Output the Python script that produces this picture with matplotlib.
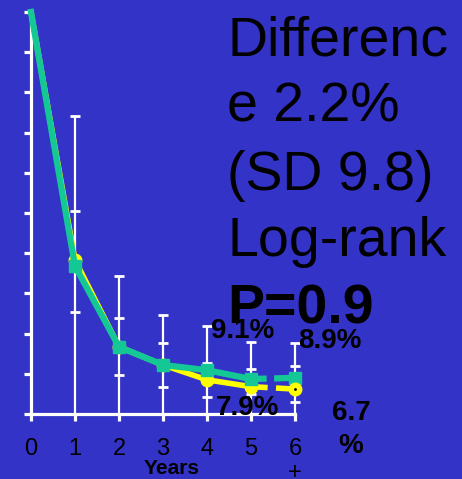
import matplotlib.pyplot as plt

# survival-style data (percent)
years = [0, 1, 2, 3, 4, 5, 6]
yellow_vals = [100, 38.3, 16.7, 12.2, 8.5, 6.8, 6.2]
green_vals = [100, 36.8, 16.7, 12.2, 10.9, 8.7, 9.0]

err_x = [1, 2, 3, 4, 5, 6]
err_top = [74.1, 34.3, 24.6, 21.9, 17.9, 17.7]
err_hi = [50.5, 23.9, 17.7, 12.7, 11.2, 12.0]
err_lo = [25.4, 9.7, 6.7, 4.2, 5.0, 3.0]

tick_labels = ["0", "1", "2", "3", "4", "5", "6\n+"]

bg = "#3333c8"
yellow = "#ffff00"
green = "#14c896"
W, H = 462, 479

plt.rcParams['font.family'] = ['Liberation Sans', 'DejaVu Sans']

fig = plt.figure(figsize=(W / 100, H / 100), dpi=100, facecolor=bg)
ax = fig.add_axes([31 / W, 1 - 414 / H, 264 / W, 402 / H])
ax.set_facecolor(bg)
ax.set_xlim(0, 6)
ax.set_ylim(0, 100)

for s in ["top", "right"]:
    ax.spines[s].set_visible(False)
for s in ["left", "bottom"]:
    ax.spines[s].set_color("white")
    ax.spines[s].set_linewidth(2.3)

ax.set_yticks(range(0, 101, 10))
ax.set_yticklabels([])
ax.tick_params(axis="y", direction="out", length=5, width=2.3, color="white")
ax.set_xticks(years)
ax.set_xticklabels(tick_labels, fontsize=17, color="black", linespacing=1.15)
ax.tick_params(axis="x", direction="out", length=5, width=2.3, color="white", pad=12)

# error bars
ax.vlines(err_x, 0, err_top, color="white", lw=1.6, zorder=2, clip_on=False)
for vals in (err_top, err_hi, err_lo):
    ax.plot(err_x, vals, ls="none", marker="_", ms=6.5, mew=2, color="white",
            zorder=2, clip_on=False)

# curves: solid through year 5, dashed to 6+ (no marker at year 0)
ax.plot(years[:6], yellow_vals[:6], color=yellow, lw=4, marker="o", ms=9,
        markevery=range(1, 6), zorder=3, clip_on=False)
ax.plot(years[5:], yellow_vals[5:], color=yellow, lw=4, ls=(0, (3, 1.5)),
        zorder=3, clip_on=False)
ax.plot(years[:6], green_vals[:6], color=green, lw=4.5, marker="s", ms=8,
        markevery=range(1, 6), zorder=4, clip_on=False)
ax.plot(years[5:], green_vals[5:], color=green, lw=4.5, ls=(0, (2.5, 1.2)),
        zorder=4, clip_on=False)
ax.plot(years[6:], green_vals[6:], color=green, marker="s", ms=8, ls="none",
        zorder=4, clip_on=False)
ax.plot(years[6:], yellow_vals[6:], color=yellow, marker="o", ms=9, ls="none",
        zorder=5, clip_on=False)
ax.plot(years[6:], yellow_vals[6:], color="black", marker=".", ms=2, ls="none",
        zorder=6, clip_on=False)


def px_text(x, y, s, **kw):
    fig.text(x / W, 1 - y / H, s, va="baseline", **kw)


# big annotation block
for line, yb in zip(["Differenc", "e 2.2%", "(SD 9.8)", "Log-rank"], [55, 122, 190, 256]):
    px_text(227, yb, line, fontsize=40, color="black")
px_text(227, 323, "P=0.9", fontsize=40, fontweight="bold", color="black")

# percentage labels
px_text(211, 338, "9.1%", fontsize=20, fontweight="bold")
px_text(298, 348, "8.9%", fontsize=20, fontweight="bold")
px_text(216, 415, "7.9%", fontsize=20, fontweight="bold")
px_text(351, 420, "6.7", fontsize=20, fontweight="bold", ha="center")
px_text(351, 453, "%", fontsize=20, fontweight="bold", ha="center")

px_text(172, 474, "Years", fontsize=15, fontweight="bold", ha="center")

fig.savefig("out.png", dpi=100, facecolor=bg)
